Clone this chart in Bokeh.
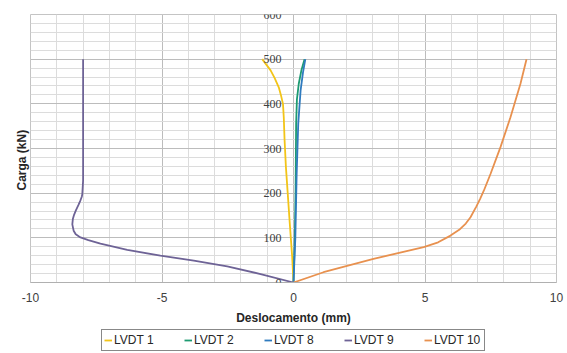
from bokeh.plotting import figure
from bokeh.models import Range1d, FixedTicker, Legend, LegendItem, Title, LabelSet, ColumnDataSource
from bokeh.layouts import column
from bokeh.embed import file_html
from bokeh.resources import INLINE

# ---- data ----
x_ticks = [-10, -5, 0, 5, 10]
x_tick_labels = ["-10", "-5", "0", "5", "10"]
y_ticks = [0, 100, 200, 300, 400, 500, 600]
y_tick_labels = ["0", "100", "200", "300", "400", "500", "600"]
x_minor = list(range(-10, 11))
y_minor = list(range(0, 601, 20))

series_names = ["LVDT 1", "LVDT 2", "LVDT 8", "LVDT 9", "LVDT 10"]

lvdt1_x = [0, -0.05, -0.14, -0.22, -0.29, -0.34, -0.37, -0.40, -0.48, -0.56, -0.72, -0.87, -1.19]
lvdt1_y = [0, 57, 131, 200, 260, 320, 370, 400, 420, 437, 458, 475, 500]

lvdt2_x = [0, 0.05, 0.08, 0.10, 0.13, 0.20, 0.30, 0.42]
lvdt2_y = [0, 100, 206, 355, 410, 445, 475, 500]

lvdt8_x = [0, 0.07, 0.12, 0.18, 0.27, 0.36, 0.45]
lvdt8_y = [0, 100, 243, 355, 430, 470, 500]

lvdt9_x = [0, -1.25, -2.52, -3.79, -5.06, -6.32, -7.34, -7.80, -8.10, -8.28, -8.36, -8.41,
           -8.39, -8.34, -8.27, -8.18, -8.10, -8.05, -8.03, -8.00, -8.00]
lvdt9_y = [0, 19, 36, 49, 60, 73, 87, 95, 101, 108, 116, 130,
           142, 152, 162, 173, 184, 192, 198, 228, 500]

lvdt10_x = [0, 1.14, 3.04, 4.95, 5.50, 5.97, 6.30, 6.55, 6.73, 6.95, 7.10, 7.24,
            7.49, 7.87, 8.25, 8.63, 8.86]
lvdt10_y = [0, 23, 53, 79, 90, 105, 118, 132, 146, 170, 188, 206,
            243, 303, 370, 445, 500]

colors = ["#F2C418", "#1E9B72", "#2F7BBF", "#6E6396", "#E8914F"]

FONT = "Liberation Sans"

p = figure(width=564, height=328, output_backend="svg", toolbar_location=None,
           x_range=Range1d(-10, 10), y_range=Range1d(0, 600),
           min_border_left=30, min_border_right=8, min_border_top=14, min_border_bottom=46)
p.background_fill_color = "white"
p.border_fill_color = "white"
p.outline_line_color = "#c4c4c4"

# x axis
xt = FixedTicker(ticks=x_ticks, minor_ticks=x_minor)
p.xaxis.ticker = xt
p.xaxis.major_label_overrides = dict(zip(x_ticks, x_tick_labels))
p.xaxis.axis_label = "Deslocamento (mm)"
p.xaxis.axis_label_text_font = FONT
p.xaxis.axis_label_text_font_style = "bold"
p.xaxis.axis_label_text_font_size = "12px"
p.xaxis.axis_label_text_color = "#262626"
p.xaxis.axis_label_standoff = 6
p.xaxis.major_label_text_font = FONT
p.xaxis.major_label_text_font_size = "12px"
p.xaxis.major_label_text_color = "#404040"
p.xaxis.major_label_standoff = 10
p.xaxis.major_tick_out = 0
p.xaxis.major_tick_in = 0
p.xaxis.minor_tick_out = 0
p.xaxis.minor_tick_in = 0
p.xaxis.axis_line_color = "#b0b0b0"

# y axis hidden; its ticker still drives the grid
yt = FixedTicker(ticks=y_ticks, minor_ticks=y_minor)
p.yaxis.ticker = yt
p.yaxis.visible = False

# y title on the left edge
p.add_layout(Title(text="Carga (kN)", align="left", offset=92, text_font=FONT,
                   text_font_style="bold", text_font_size="12px",
                   text_color="#262626", standoff=4), "left")

# grids
p.xgrid.ticker = xt
p.ygrid.ticker = yt
for g in (p.xgrid, p.ygrid):
    g.grid_line_color = "#bcbcbc"
    g.grid_line_width = 1
    g.minor_grid_line_color = "#dcdcdc"
    g.minor_grid_line_width = 1

# y tick labels beside the vertical line x = 0
ysrc = ColumnDataSource(dict(x=[0] * len(y_ticks), y=y_ticks, text=y_tick_labels))
p.add_layout(LabelSet(x="x", y="y", text="text", source=ysrc, x_offset=-12,
                      text_font=FONT, text_font_size="12px", text_color="#404040",
                      text_align="right", text_baseline="middle"))

xs = [lvdt1_x, lvdt2_x, lvdt8_x, lvdt9_x, lvdt10_x]
ys = [lvdt1_y, lvdt2_y, lvdt8_y, lvdt9_y, lvdt10_y]
for xv, yv, c in zip(xs, ys, colors):
    p.line(xv, yv, line_color=c, line_width=1.8)

# legend in its own strip below the chart (its lines lie outside this strip's ranges)
pl = figure(width=564, height=24, output_backend="svg", toolbar_location=None,
            x_range=Range1d(-10, 10), y_range=Range1d(-2, -1),
            min_border_left=13, min_border_right=0, min_border_top=0, min_border_bottom=0)
pl.axis.visible = False
pl.grid.visible = False
pl.outline_line_color = None
leg_renderers = [pl.line(xv, yv, line_color=c, line_width=1.8) for xv, yv, c in zip(xs, ys, colors)]

legend = Legend(items=[LegendItem(label=n, renderers=[r]) for n, r in zip(series_names, leg_renderers)],
                orientation="horizontal", location="center",
                label_text_font=FONT, label_text_font_size="12px", label_text_color="#262626",
                glyph_width=8, glyph_height=16, label_height=16, label_width=48,
                label_standoff=2, spacing=22, padding=2, margin=0,
                border_line_color="#111111", border_line_width=1.5,
                background_fill_color="white")
pl.add_layout(legend, "center")

layout = column(p, pl, spacing=0)
open("out.html", "w").write(file_html(layout, INLINE))
